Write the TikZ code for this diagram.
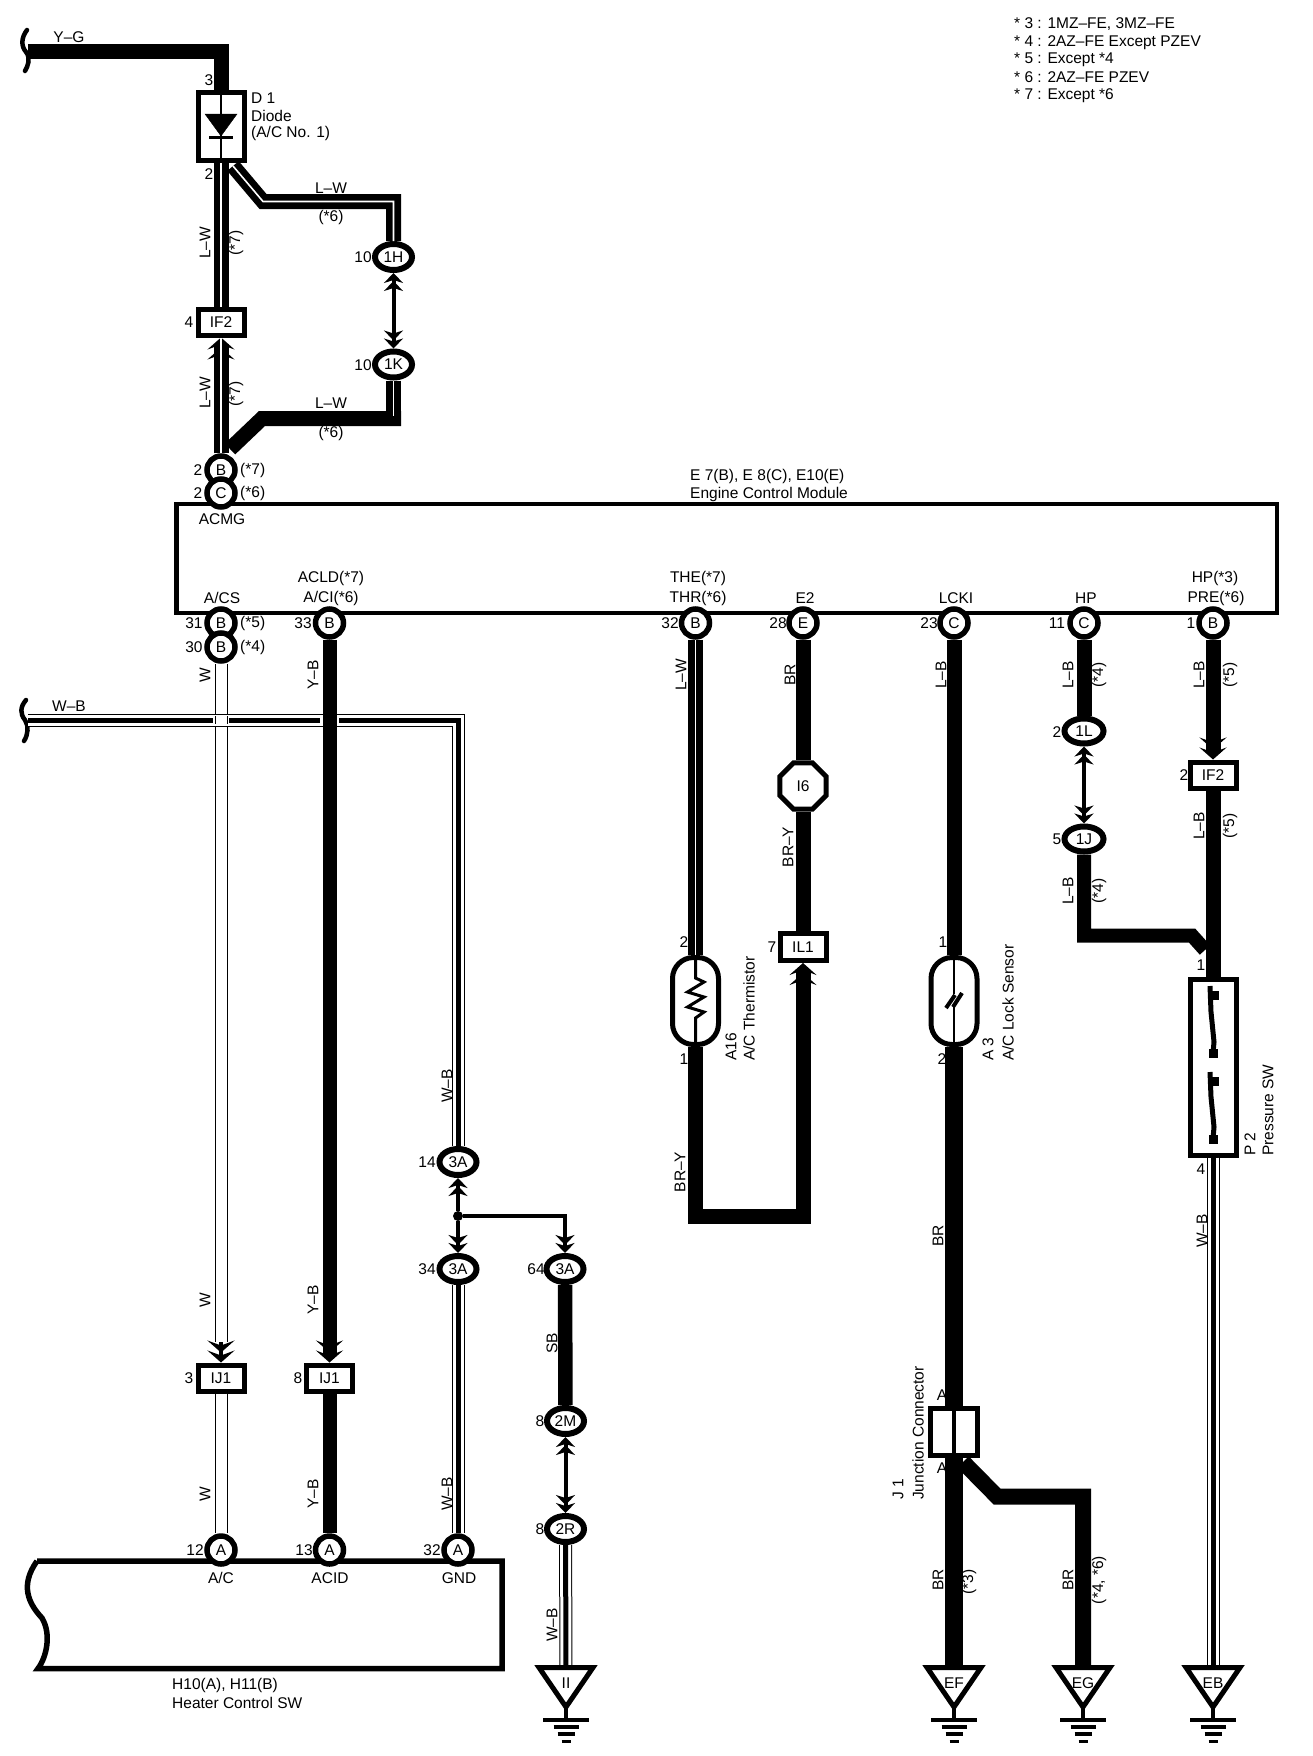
\documentclass[tikz,border=0pt]{standalone}
\usepackage{fontspec}
\setmainfont{Liberation Sans}
\usetikzlibrary{arrows.meta,shapes.geometric}
\tikzset{
	wirek/.style={draw=black,line width=15pt},
	wirelw/.style={wirek,postaction={draw=white,line width=1.6pt,-}},
	wirew/.style={draw=black,line width=13pt,postaction={draw=white,line width=11pt,-}},
	wirewb/.style={wirew,postaction={draw=black,line width=5pt,-}},
	linkwire/.style={draw=black,line width=4pt},
	headtip/.tip={Stealth[length=12pt,width=27pt,inset=5pt,sep=-2pt]Stealth[length=12pt,width=27pt,inset=5pt]},
	linktip/.tip={Stealth[length=10pt,width=19pt,inset=3pt,sep=-2pt]Stealth[length=10pt,width=19pt,inset=3pt]},
	headend/.style={-headtip},
	linkend/.style={-linktip},
	linkstart/.style={linktip-},
	linkboth/.style={linktip-linktip},
	pincirc/.style={draw=black,fill=white,circle,line width=5.5pt,minimum size=28pt},
	plugoval/.style={draw=black,fill=white,ellipse,line width=6pt,minimum width=37pt,minimum height=26pt},
	plugbox/.style={draw=black,fill=white,rectangle,line width=5pt,minimum width=46pt,minimum height=26pt},
	partbox/.style={draw=black,fill=white,rectangle,line width=5pt},
	vlab/.style={rotate=90},
	vlabl/.style={rotate=90,anchor=west},
	llab/.style={anchor=west},
	gndmark/.pic={
		\draw [line width=5pt,fill=white,line join=miter] (-27,1.5)-- (27,1.5)-- (0,41)-- cycle;
		\draw [line width=4pt] (0,41)-- (0,54);
		\draw [line width=3.5pt] (-23,54)-- (23,54);
		\draw [line width=3.5pt] (-12.5,61)-- (12.5,61);
		\draw [line width=3.5pt] (-8.5,68)-- (8.5,68);
		\draw [line width=3pt] (-4.5,75)-- (4.5,75);
	}
}
\begin{document}
\begin{tikzpicture}[x=1pt,y=-1pt,font=\fontsize{15.5}{15.5}\selectfont,every node/.append style={inner sep=0pt}]
	\useasboundingbox (0,0) rectangle (1312,1756);
	\node[draw=black,rectangle,line width=4.5pt,minimum width=1100.5pt,minimum height=109pt] (ecm) at (726.75,558.5) {};
	\draw [line width=5.5pt,line join=miter] (37,1561)-- (502,1561)-- (502,1668.5)-- (38,1668.5) .. controls (46,1658) and (52,1635) .. (42,1618) .. controls (28,1603) and (20,1585) .. (37,1561);

	\node[partbox,minimum width=46pt,minimum height=68pt] (d1) at (221,126.5) {};
	\node[plugbox] (if2a) at (221,322) {IF2};
	\node[plugoval] (p1h) at (393.5,257) {1H};
	\node[plugoval] (p1k) at (393.5,364.5) {1K};
	\node[pincirc] (pb7) at (221,470) {B};
	\node[pincirc] (pc6) at (221,493) {C};
	\node[pincirc] (pb5) at (221,623) {B};
	\node[pincirc] (pb4) at (221,647) {B};
	\node[pincirc] (pb33) at (329.5,623) {B};
	\node[pincirc] (pb32) at (695.5,623) {B};
	\node[pincirc] (pe28) at (803,623) {E};
	\node[pincirc] (pc23) at (954,623) {C};
	\node[pincirc] (pc11) at (1084,623) {C};
	\node[pincirc] (pb1) at (1213,623) {B};
	\node[plugbox] (ij1a) at (221,1378) {IJ1};
	\node[plugbox] (ij1b) at (329.5,1378) {IJ1};
	\node[pincirc] (pa12) at (221,1550) {A};
	\node[pincirc] (pa13) at (329.5,1550) {A};
	\node[pincirc] (pa32) at (458,1550) {A};
	\node[plugoval] (p3a14) at (458,1162) {3A};
	\node[plugoval] (p3a34) at (458,1269) {3A};
	\node[plugoval] (p3a64) at (565,1269) {3A};
	\node[plugoval] (p2m) at (565.5,1421) {2M};
	\node[plugoval] (p2r) at (565.5,1529) {2R};
	\node[circle,fill=black,minimum size=10pt] (dotA) at (458,1216) {};
	\node[draw=black,fill=white,regular polygon,regular polygon sides=8,line width=5pt,minimum size=50pt] (i6) at (803,786) {I6};
	\node[plugbox,minimum height=27pt] (il1) at (803,947) {IL1};
	\node[partbox,rounded corners=21pt,minimum width=46pt,minimum height=87pt] (a16) at (695.5,1001) {};
	\node[partbox,rounded corners=21pt,minimum width=46pt,minimum height=87pt] (a3) at (954,1001) {};
	\node[partbox,minimum width=47pt,minimum height=47pt] (j1) at (954,1432) {};
	\node[plugoval,minimum width=39pt,minimum height=25pt] (p1l) at (1084,731) {1L};
	\node[plugoval,minimum width=39pt,minimum height=25pt] (p1j) at (1084,839) {1J};
	\node[plugbox] (if2b) at (1213,775) {IF2};
	\node[partbox,minimum width=46pt,minimum height=176pt] (p2) at (1213,1067) {};

	\coordinate (ygEnd) at (28,51.5);
	\coordinate (lwA) at (233,166);
	\coordinate (lwB) at (263,201.5);
	\coordinate (lwC) at (393.5,201.5);
	\coordinate (lwD) at (230,449);
	\coordinate (lwE) at (262,418.5);
	\coordinate (lwF) at (401,418.5);
	\coordinate (lwG) at (393.5,416);
	\coordinate (wbEnd) at (28,720);
	\coordinate (wbCorner) at (458,720);
	\coordinate (wCut) at (221,1342);
	\coordinate (byA) at (695.5,1216);
	\coordinate (byB) at (803,1216);
	\coordinate (jbA) at (963,1462);
	\coordinate (jbB) at (997,1496.5);
	\coordinate (jbC) at (1083,1496.5);
	\coordinate (hpA) at (1084,935.5);
	\coordinate (hpB) at (1192,935.5);
	\coordinate (hpC) at (1205,950);
	\coordinate (gTopII) at (566,1668);
	\coordinate (gTopEF) at (954,1668);
	\coordinate (gTopEG) at (1083,1668);
	\coordinate (gTopEB) at (1213,1668);

	\draw [line width=4.5pt,line cap=round] (27,30) .. controls (21,38) and (21,46) .. (26,52) .. controls (31,58) and (28,66) .. (25,71);
	\draw [line width=4.5pt,line cap=round] (26,700) .. controls (20,707) and (20,714) .. (25,720) .. controls (29,726) and (28,735) .. (24,741);
	\draw [wirek,line join=miter] (ygEnd) -| (d1);
	\draw [wirelw] (d1) -- (if2a);
	\draw [wirelw,line join=miter] (lwA) -- (lwB) -- (lwC) -- (p1h);
	\draw [linkwire,linkboth] (p1h) -- (p1k);
	\draw [wirelw,headend] (pb7) -- (if2a);
	\draw [wirek,line join=miter] (lwD) -- (lwE) -- (lwF);
	\draw [wirelw] (p1k) -- (lwG);
	\draw [wirew] (pb4) -- (wCut);
	\draw [linkwire,headend] (wCut) -- (ij1a);
	\draw [wirew] (ij1a) -- (pa12);
	\draw [wirewb,line join=miter] (wbEnd) -- (wbCorner) -- (p3a14);
	\draw [white,line width=6pt] (213,720) -- (229,720);
	\draw [line width=1pt] (215,716) -- (215,724);
	\draw [line width=1pt] (227,716) -- (227,724);
	\draw [white,line width=6pt] (320,720) -- (339,720);
	\draw [wirek,line width=14pt,headend] (pb33) -- (ij1b);
	\draw [wirek,line width=14pt] (ij1b) -- (pa13);
	\draw [linkwire,linkstart] (p3a14) -- (dotA);
	\draw [linkwire,linkend] (dotA) -- (p3a34);
	\draw [linkwire,line width=3.5pt,linkend] (dotA) -| (p3a64);
	\draw [wirewb] (p3a34) -- (pa32);
	\draw [wirek,line width=14.5pt] (p3a64) -- (p2m);
	\draw [linkwire,linkboth] (p2m) -- (p2r);
	\draw [wirewb] (p2r) -- (gTopII);
	\draw [wirelw] (pb32) -- (a16);
	\draw [wirek] (pe28) -- (i6);
	\draw [wirek] (i6) -- (il1);
	\draw [wirek,line join=miter,headend] (a16) -- (byA) -- (byB) -- (il1);
	\draw [wirek] (pc23) -- (a3);
	\draw [wirek,line width=18pt] (a3) -- (j1);
	\draw [wirek,line width=18pt] (j1) -- (gTopEF);
	\draw [wirek,line width=16pt,line join=miter] (jbA) -- (jbB) -- (jbC) -- (gTopEG);
	\draw [wirek] (pc11) -- (p1l);
	\draw [linkwire,linkboth] (p1l) -- (p1j);
	\draw [wirek,line width=14pt,line join=miter] (p1j) -- (hpA) -- (hpB) -- (hpC);
	\draw [wirek,headend] (pb1) -- (if2b);
	\draw [wirek] (if2b) -- (p2);
	\draw [wirewb] (p2) -- (gTopEB);
	\pic at (566,1666) {gndmark};
	\pic at (954,1666) {gndmark};
	\pic at (1083,1666) {gndmark};
	\pic at (1213,1666) {gndmark};
	\node (gndII) at (566,1683) {II};
	\node (gndEF) at (954,1683) {EF};
	\node (gndEG) at (1083,1683) {EG};
	\node (gndEB) at (1213,1683) {EB};

	\draw [line width=2pt] (221,95) -- (221,158);
	\draw [fill=black] (205,114) -- (237,114) -- (221,136) -- cycle;
	\draw [line width=3pt] (209,137) -- (233,137);
	\draw [line width=3pt,line join=miter] (695.5,958) -- (695.5,978) -- (704,982) -- (687.5,992) -- (704,997) -- (687.5,1007) -- (704,1012) -- (695.5,1018) -- (695.5,1043);
	\draw [line width=2.5pt] (954,958) -- (954,994);
	\draw [line width=2.5pt] (954,1005) -- (954,1043);
	\draw [line width=4pt] (946,1008) -- (955,995);
	\draw [line width=4pt] (953,1007) -- (962,993);
	\draw [line width=4pt] (954,1410) -- (954,1455);
	\draw [line width=5pt] (1210,986) -- (1211,1012) -- (1214,1042) -- (1213,1053);
	\draw [line width=5pt] (1210,1072) -- (1211,1097) -- (1214,1127) -- (1213,1139);
	\node[fill=black,minimum size=9pt] (swA) at (1214,995) {};
	\node[fill=black,minimum size=9pt] (swB) at (1213,1053) {};
	\node[fill=black,minimum size=9pt] (swC) at (1214,1081) {};
	\node[fill=black,minimum size=9pt] (swD) at (1213,1139) {};

	\node[llab] (noteA) at (1014,24) {* 3 : 1MZ–FE, 3MZ–FE};
	\node[llab] (noteB) at (1014,43) {* 4 : 2AZ–FE Except PZEV};
	\node[llab] (noteC) at (1014,60) {* 5 : Except *4};
	\node[llab] (noteD) at (1014,77) {* 6 : 2AZ–FE PZEV};
	\node[llab] (noteE) at (1014,96) {* 7 : Except *6};
	\node (lblYG) at (69,37) {Y–G};
	\node (pin3) at (209,80) {3};
	\node[llab] (lblD1) at (251,98) {D 1};
	\node[llab] (lblDiode) at (251,116) {Diode};
	\node[llab] (lblNo1) at (251,133) {(A/C No. 1)};
	\node (pin2) at (209,174) {2};
	\node[vlab] (lblLWa) at (205,243) {L–W};
	\node[vlab] (lblS7a) at (236,243) {(*7)};
	\node (pin4) at (189,322) {4};
	\node[vlab] (lblLWb) at (205,393) {L–W};
	\node[vlab] (lblS7b) at (236,394) {(*7)};
	\node (lblLWc) at (331,188) {L–W};
	\node (lblS6a) at (331,217) {(*6)};
	\node (lblLWd) at (331,403) {L–W};
	\node (lblS6b) at (331,433) {(*6)};
	\node (pin10a) at (363,257) {10};
	\node (pin10b) at (363,365) {10};
	\node (pin2b) at (198,470) {2};
	\node[llab] (lblS7c) at (240,470) {(*7)};
	\node (pin2c) at (198,493) {2};
	\node[llab] (lblS6c) at (240,493) {(*6)};
	\node[llab] (lblEcmA) at (690,476) {E 7(B), E 8(C), E10(E)};
	\node[llab] (lblEcmB) at (690,494) {Engine Control Module};
	\node (lblACMG) at (222,519) {ACMG};
	\node (lblACS) at (222,598) {A/CS};
	\node (lblACLD) at (331,578) {ACLD(*7)};
	\node (lblACI) at (331,598) {A/CI(*6)};
	\node (lblTHE) at (698,578) {THE(*7)};
	\node (lblTHR) at (698,598) {THR(*6)};
	\node (lblE2) at (805,598) {E2};
	\node (lblLCKI) at (956,598) {LCKI};
	\node (lblHP) at (1086,598) {HP};
	\node (lblHPb) at (1215,578) {HP(*3)};
	\node (lblPRE) at (1216,598) {PRE(*6)};
	\node (pin31) at (194,623) {31};
	\node[llab] (lblS5) at (240,623) {(*5)};
	\node (pin30) at (194,647) {30};
	\node[llab] (lblS4) at (240,647) {(*4)};
	\node (pin33) at (303,623) {33};
	\node (pin32) at (670,623) {32};
	\node (pin28) at (778,623) {28};
	\node (pin23) at (929,623) {23};
	\node (pin11) at (1057,623) {11};
	\node (pin1) at (1191,623) {1};
	\node[vlab] (lblWa) at (205,675) {W};
	\node[vlab] (lblYBa) at (313,675) {Y–B};
	\node[vlab] (lblLWe) at (681,675) {L–W};
	\node[vlab] (lblBRa) at (790,675) {BR};
	\node[vlab] (lblLBa) at (941,675) {L–B};
	\node[vlab] (lblLBb) at (1068,675) {L–B};
	\node[vlab] (lblS4a) at (1099,675) {(*4)};
	\node[vlab] (lblLBc) at (1199,675) {L–B};
	\node[vlab] (lblS5a) at (1230,675) {(*5)};
	\node (lblWB) at (69,706) {W–B};
	\node (pin2d) at (1057,732) {2};
	\node (pin5) at (1057,839) {5};
	\node (pin2e) at (1184,775) {2};
	\node[vlab] (lblLBd) at (1199,826) {L–B};
	\node[vlab] (lblS5b) at (1230,826) {(*5)};
	\node[vlab] (lblLBe) at (1068,891) {L–B};
	\node[vlab] (lblS4b) at (1099,891) {(*4)};
	\node (pin1b) at (1201,965) {1};
	\node (pin4b) at (1201,1169) {4};
	\node[vlab] (lblWBb) at (1202,1231) {W–B};
	\node[vlabl] (lblP2) at (1250,1156) {P 2};
	\node[vlabl] (lblPress) at (1268,1156) {Pressure SW};
	\node[vlab] (lblBRY) at (788,847) {BR–Y};
	\node (pin7) at (772,947) {7};
	\node (pin2f) at (684,942) {2};
	\node (pin1c) at (684,1059) {1};
	\node[vlabl] (lblA16) at (731,1061) {A16};
	\node[vlabl] (lblThermo) at (749,1061) {A/C Thermistor};
	\node (pin1d) at (943,942) {1};
	\node (pin2g) at (942,1059) {2};
	\node[vlabl] (lblA3) at (988,1061) {A 3};
	\node[vlabl] (lblLock) at (1008,1061) {A/C Lock Sensor};
	\node[vlab] (lblBRb) at (680,1172) {BR–Y};
	\node[vlab] (lblBRc) at (938,1236) {BR};
	\node (pinAa) at (942,1395) {A};
	\node (pinAb) at (942,1468) {A};
	\node[vlabl] (lblJ1) at (898,1500) {J 1};
	\node[vlabl] (lblJunc) at (918,1500) {Junction Connector};
	\node[vlab] (lblBRd) at (938,1580) {BR};
	\node[vlab] (lblS3) at (969,1582) {(*3)};
	\node[vlab] (lblBRe) at (1068,1580) {BR};
	\node[vlab] (lblS46) at (1099,1580) {(*4, *6)};
	\node[vlab] (lblWBc) at (447,1086) {W–B};
	\node (pin14) at (427,1162) {14};
	\node (pin34) at (427,1269) {34};
	\node (pin64) at (536,1269) {64};
	\node[vlab] (lblSB) at (552,1343) {SB};
	\node (pin8c) at (540,1421) {8};
	\node (pin8d) at (540,1529) {8};
	\node[vlab] (lblWBd) at (552,1625) {W–B};
	\node[vlab] (lblWBe) at (447,1494) {W–B};
	\node (pin3b) at (189,1378) {3};
	\node (pin8b) at (298,1378) {8};
	\node[vlab] (lblWc) at (205,1300) {W};
	\node[vlab] (lblYBb) at (313,1300) {Y–B};
	\node[vlab] (lblWd) at (205,1494) {W};
	\node[vlab] (lblYBc) at (313,1494) {Y–B};
	\node (pin12) at (195,1550) {12};
	\node (pin13) at (304,1550) {13};
	\node (pin32b) at (432,1550) {32};
	\node (lblAC) at (221,1578) {A/C};
	\node (lblACID) at (330,1578) {ACID};
	\node (lblGND) at (459,1578) {GND};
	\node[llab] (lblH10) at (172,1685) {H10(A), H11(B)};
	\node[llab] (lblHeater) at (172,1703) {Heater Control SW};
\end{tikzpicture}
\end{document}
